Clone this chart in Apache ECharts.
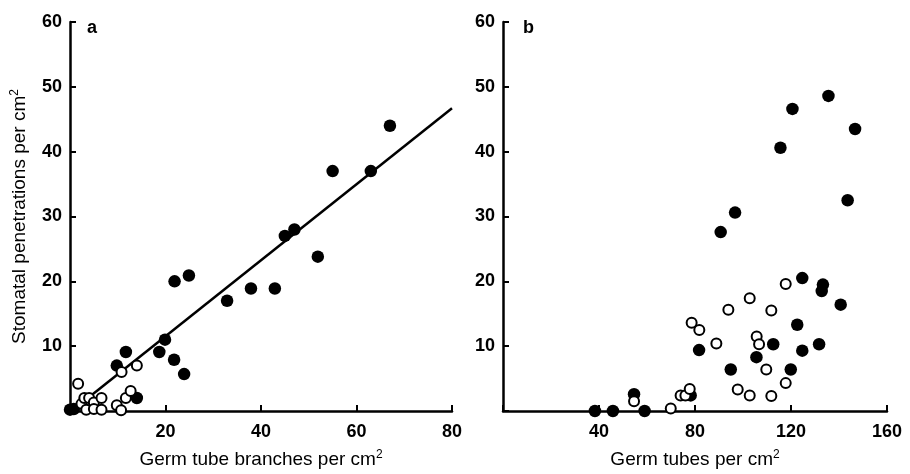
<!DOCTYPE html>
<html>
<head>
<meta charset="utf-8">
<script src="https://cdn.jsdelivr.net/npm/echarts@6/dist/echarts.min.js"></script>
<style>
  html, body { margin: 0; padding: 0; background: #fff; }
  #chart { width: 910px; height: 474px; }
</style>
</head>
<body>
<div id="chart"></div>
<script>
  // panel a: germ tube branches vs stomatal penetrations
  var aFilled = [
    [0, 0.2], [0.8, 0.3], [14, 2], [9.8, 7], [11.7, 9.1], [18.7, 9.1], [19.9, 11], [21.8, 7.9],
    [23.9, 5.7], [21.9, 20], [24.9, 20.9], [32.9, 17], [37.9, 18.9], [42.9, 18.9],
    [45, 27], [47, 28], [51.9, 23.8], [55, 37], [63, 37], [67, 44]
  ];
  var aOpen = [
    [1.7, 4.2], [2.4, 1.1], [3, 2], [4, 2], [5, 1.3], [6.6, 2], [3.4, 0.2], [5, 0.3],
    [6.6, 0.2], [9.8, 0.9], [10.7, 0.1], [11.7, 2], [12.7, 3.1], [14, 7], [10.8, 6]
  ];
  var aFit = [[1, 0.4], [80, 46.7]];

  // panel b: germ tubes vs stomatal penetrations
  var bFilled = [
    [38.3, 0], [45.8, 0], [59, 0], [54.6, 2.6], [78.2, 2.4], [81.7, 9.4], [90.7, 27.6],
    [94.9, 6.4], [96.7, 30.6], [105.6, 8.3], [112.6, 10.3], [115.6, 40.6], [119.9, 6.4],
    [120.6, 46.6], [122.6, 13.3], [124.7, 9.3], [124.7, 20.5], [131.7, 10.3], [132.8, 18.5],
    [133.3, 19.5], [135.6, 48.6], [140.7, 16.4], [143.6, 32.5], [146.7, 43.5]
  ];
  var bOpen = [
    [54.6, 1.5], [69.9, 0.4], [74, 2.4], [76, 2.4], [77.8, 3.4], [78.6, 13.6], [81.8, 12.5],
    [88.9, 10.4], [93.9, 15.6], [97.8, 3.3], [102.8, 17.4], [102.8, 2.4], [105.7, 11.5],
    [106.7, 10.3], [109.7, 6.4], [111.8, 15.5], [111.8, 2.3], [117.8, 19.6], [117.8, 4.3]
  ];

  var ink = '#000';
  var font = 'Liberation Sans, Arial, sans-serif';

  function noZero(v) { return v === 0 ? '' : v; }

  var nameStyle = {
    color: ink, fontFamily: font, fontSize: 19,
    rich: { sup: { fontSize: 12, verticalAlign: 'top', color: ink, fontFamily: font, padding: [0, 0, 9, 0] } }
  };

  function xAxisOf(idx, max, step, name) {
    return {
      gridIndex: idx, type: 'value', min: 0, max: max, interval: step,
      name: name, nameLocation: 'middle', nameGap: 38,
      nameTextStyle: nameStyle,
      axisLine: { lineStyle: { color: ink, width: 2.5 } },
      axisTick: { inside: true, length: 6, lineStyle: { color: ink, width: 2 } },
      axisLabel: { formatter: noZero, color: ink, fontFamily: font, fontSize: 18, fontWeight: 'bold', margin: 12 },
      splitLine: { show: false }
    };
  }

  function yAxisOf(idx, name) {
    return {
      gridIndex: idx, type: 'value', min: 0, max: 60, interval: 10,
      name: name, nameLocation: 'middle', nameGap: 40,
      nameTextStyle: nameStyle,
      axisLine: { lineStyle: { color: ink, width: 2.5 } },
      axisTick: { inside: true, length: 6, lineStyle: { color: ink, width: 2 } },
      axisLabel: { formatter: noZero, color: ink, fontFamily: font, fontSize: 18, fontWeight: 'bold', margin: 8 },
      splitLine: { show: false }
    };
  }

  function dots(xi, data, open) {
    return {
      type: 'scatter', xAxisIndex: xi, yAxisIndex: xi, data: data,
      symbol: 'circle', symbolSize: open ? 10 : 12.5, z: open ? 4 : 3,
      itemStyle: open ? { color: '#fff', borderColor: ink, borderWidth: 2, opacity: 1 } : { color: ink, opacity: 1 },
      clip: false
    };
  }

  var chart = echarts.init(document.getElementById('chart'));
  chart.setOption({
    backgroundColor: '#fff',
    animation: false,
    title: [
      { text: 'a', left: 82, top: 14, textStyle: { color: ink, fontFamily: font, fontSize: 18, fontWeight: 'bold' } },
      { text: 'b', left: 518, top: 14, textStyle: { color: ink, fontFamily: font, fontSize: 18, fontWeight: 'bold' } }
    ],
    grid: [
      { left: 70, top: 22, width: 382, height: 391 },
      { left: 503, top: 22, width: 384, height: 393 }
    ],
    xAxis: [
      xAxisOf(0, 80, 20, 'Germ tube branches per cm{sup|2}'),
      xAxisOf(1, 160, 40, 'Germ tubes per cm{sup|2}')
    ],
    yAxis: [
      yAxisOf(0, 'Stomatal penetrations per cm{sup|2}'),
      yAxisOf(1, '')
    ],
    series: [
      {
        type: 'line', xAxisIndex: 0, yAxisIndex: 0, data: aFit,
        symbol: 'none', lineStyle: { color: ink, width: 2.5 }, z: 2
      },
      dots(0, aFilled, false),
      dots(0, aOpen, true),
      dots(1, bFilled, false),
      dots(1, bOpen, true)
    ]
  });
</script>
</body>
</html>
